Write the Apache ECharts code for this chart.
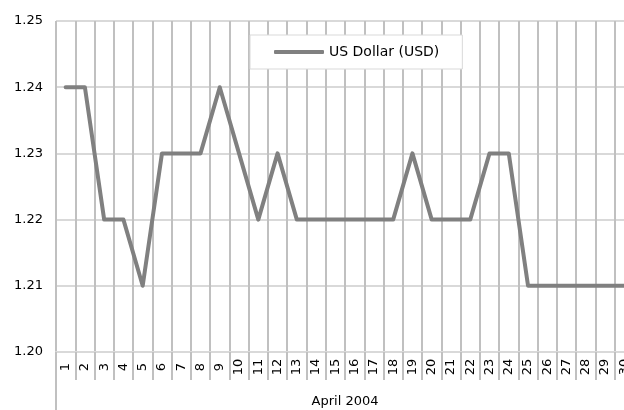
<!DOCTYPE html>
<html>
<head>
<meta charset="utf-8">
<script src="https://cdn.jsdelivr.net/npm/echarts@6/dist/echarts.min.js"></script>
<style>html,body{margin:0;padding:0;background:#fff}#c{width:624px;height:410px}</style>
</head>
<body>
<div id="c"></div>
<script>
const days = ['1','2','3','4','5','6','7','8','9','10','11','12','13','14','15','16','17','18','19','20','21','22','23','24','25','26','27','28','29','30'];
const usd = [1.24,1.24,1.22,1.22,1.21,1.23,1.23,1.23,1.24,1.23,1.22,1.23,1.22,1.22,1.22,1.22,1.22,1.22,1.23,1.22,1.22,1.22,1.23,1.23,1.21,1.21,1.21,1.21,1.21,1.21];
const groupLabel = ['April 2004'];
const seriesName = 'US Dollar (USD)';
const yMin = 1.20, yMax = 1.25, yStep = 0.01;

const font = 'DejaVu Sans';
const chart = echarts.init(document.getElementById('c'), null, {renderer: 'canvas'});
chart.setOption({
  animation: false,
  backgroundColor: '#ffffff',
  grid: {left: 56, width: 578, top: 21, bottom: 58, containLabel: false, outerBoundsMode: 'none'},
  legend: {
    left: 250, top: 35,
    padding: [10, 23, 10, 24],
    backgroundColor: '#ffffff',
    borderColor: '#d9d9d9', borderWidth: 1,
    icon: 'roundRect', itemWidth: 50, itemHeight: 4,
    textStyle: {fontFamily: font, fontSize: 14, color: '#000'},
    data: [seriesName]
  },
  xAxis: [{
    type: 'category', data: days, boundaryGap: true, position: 'bottom',
    axisLine: {show: true, onZero: false, lineStyle: {color: '#d9d9d9', width: 2}},
    axisTick: {show: true, length: 28, interval: 0, lineStyle: {color: '#c0c0c0', width: 2}},
    splitLine: {show: true, interval: 0, lineStyle: {color: '#c0c0c0', width: 2}},
    axisLabel: {
      interval: 0, rotate: 90, margin: 4,
      fontFamily: font, fontSize: 13, color: '#000',
      formatter: v => '{a|' + v + '}',
      rich: {a: {width: 22, align: 'center', fontFamily: font, fontSize: 13, color: '#000'}}
    }
  }, {
    type: 'category', data: groupLabel, boundaryGap: true, position: 'bottom', offset: 0,
    axisLine: {show: false, onZero: false},
    axisTick: {show: true, length: 58, interval: 0, lineStyle: {color: '#c0c0c0', width: 2}},
    splitLine: {show: false},
    axisLabel: {margin: 43, fontFamily: font, fontSize: 13, color: '#000'}
  }],
  yAxis: {
    type: 'value', min: yMin, max: yMax, interval: yStep,
    axisLine: {show: false}, axisTick: {show: false},
    splitLine: {show: true, lineStyle: {color: '#d9d9d9', width: 2}},
    axisLabel: {margin: 13, fontFamily: font, fontSize: 13, color: '#000', formatter: v => v.toFixed(2)}
  },
  series: [{
    name: seriesName, type: 'line', data: usd, xAxisIndex: 0,
    showSymbol: false, symbol: 'none',
    lineStyle: {color: '#808080', width: 4, cap: 'round', join: 'round'},
    itemStyle: {color: '#808080'}
  }]
});
</script>
</body>
</html>
